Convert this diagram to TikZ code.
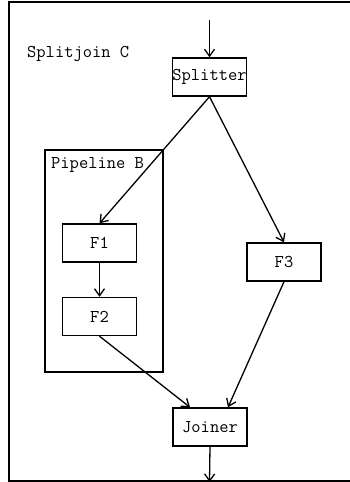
\documentclass[tikz,border=0pt]{standalone}
\usetikzlibrary{arrows.meta,positioning}

\tikzset{
  filter/.style={draw,line width=1.4pt,minimum width=74pt,minimum height=38pt,inner sep=0pt,font=\ttfamily\fontsize{18}{18}\selectfont},
  flow/.style={line width=1.3pt,-{Straight Barb[length=7pt,width=10pt,line width=1.3pt]}},
  label/.style={anchor=west,inner sep=0pt,font=\ttfamily\fontsize{18}{18}\selectfont}
}

\begin{document}
\begin{tikzpicture}[x=1pt,y=-1pt]
\useasboundingbox (0,0) rectangle (350,482);
% Splitjoin C
\draw[line width=1.6pt] (9,2) rectangle (360,481);
\node[label] (sjlabel) at (27,54) {Splitjoin C};
% Pipeline B
\draw[line width=1.3pt] (45,150) rectangle (163,372);
\node[label] (pllabel) at (51,165) {Pipeline B};
% filters
\node[filter] (split) at (209.5,77) {Splitter};
\node[filter] (f1) at (99.5,243) {F1};
\node[filter] (f2) at (99.5,316.5) {F2};
\node[filter] (f3) at (284,262) {F3};
\node[filter] (join) at (210,427) {Joiner};
\coordinate (in) at (209.5,20);
\coordinate (out) at (209.5,482);
% connectors
\draw[flow] (in) -- (split.north);
\draw[flow] (split.south) -- (f1.north);
\draw[flow] (split.south) -- (f3.north);
\draw[flow] (f1.south) -- (f2.north);
\draw[flow] (f2.south) -- ([xshift=-20pt]join.north);
\draw[flow] (f3.south) -- ([xshift=18pt]join.north);
\draw[flow] (join.south) -- (out);
\end{tikzpicture}
\end{document}
